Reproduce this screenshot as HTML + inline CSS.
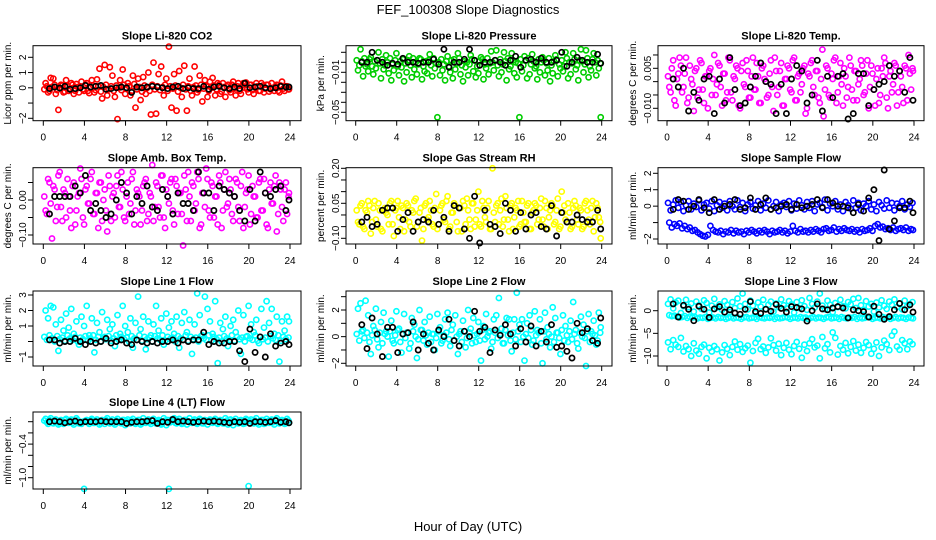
<!DOCTYPE html>
<html><head><meta charset="utf-8"><style>
html,body{margin:0;padding:0;background:#fff;}
svg{display:block;font-family:"Liberation Sans",Arial,sans-serif;}
</style></head><body>
<svg id="chart" width="936" height="540" viewBox="0 0 936 540">
<text x="468" y="14" text-anchor="middle" font-size="13">FEF_100308  Slope Diagnostics</text>
<text x="468" y="531" text-anchor="middle" font-size="13">Hour of Day (UTC)</text>
</svg>
<script>
// shared hour categories
const hours = [0.1,0.35,0.6,0.85,1.1,1.35,1.6,1.85,2.1,2.35,2.6,2.85,3.1,3.35,3.6,3.85,4.1,4.35,4.6,4.85,5.1,5.35,5.6,5.85,6.1,6.35,6.6,6.85,7.1,7.35,7.6,7.85,8.1,8.35,8.6,8.85,9.1,9.35,9.6,9.85,10.1,10.35,10.6,10.85,11.1,11.35,11.6,11.85,12.1,12.35,12.6,12.85,13.1,13.35,13.6,13.85,14.1,14.35,14.6,14.85,15.1,15.35,15.6,15.85,16.1,16.35,16.6,16.85,17.1,17.35,17.6,17.85,18.1,18.35,18.6,18.85,19.1,19.35,19.6,19.85,20.1,20.35,20.6,20.85,21.1,21.35,21.6,21.85,22.1,22.35,22.6,22.85,23.1,23.35,23.6,23.85];
const hoursAlt = [0.22,0.47,0.72,0.97,1.22,1.47,1.72,1.97,2.22,2.47,2.72,2.97,3.22,3.47,3.72,3.97,4.22,4.47,4.72,4.97,5.22,5.47,5.72,5.97,6.22,6.47,6.72,6.97,7.22,7.47,7.72,7.97,8.22,8.47,8.72,8.97,9.22,9.47,9.72,9.97,10.22,10.47,10.72,10.97,11.22,11.47,11.72,11.97,12.22,12.47,12.72,12.97,13.22,13.47,13.72,13.97,14.22,14.47,14.72,14.97,15.22,15.47,15.72,15.97,16.22,16.47,16.72,16.97,17.22,17.47,17.72,17.97,18.22,18.47,18.72,18.97,19.22,19.47,19.72,19.97,20.22,20.47,20.72,20.97,21.22,21.47,21.72,21.97,22.22,22.47,22.72,22.97,23.22,23.47,23.72,23.9];
const hoursBlack = [0.6,1.1,1.6,2.1,2.6,3.1,3.6,4.1,4.6,5.1,5.6,6.1,6.6,7.1,7.6,8.1,8.6,9.1,9.6,10.1,10.6,11.1,11.6,12.1,12.6,13.1,13.6,14.1,14.6,15.1,15.6,16.1,16.6,17.1,17.6,18.1,18.6,19.1,19.6,20.1,20.6,21.1,21.6,22.1,22.6,23.1,23.6,23.9];
const xTicks = [0,4,8,12,16,20,24];

// Panel 1: CO2
const co2Core = [-0.1,0.1,-0.2,0.05,0.2,-0.15,0,0.15,-0.25,0.1,-0.05,0.2,-0.2,0.05,0.1,-0.1,0.2,-0.2,0,0.15,-0.15,0.1,-0.25,0.05,0.2,-0.1,0.1,-0.2,0.15,0,-0.15,0.2,-0.05,0.1,-0.2,0.25,-0.1,0.05,-0.25,0.15,0,-0.2,0.2,-0.1,0.1,-0.15,0.05,0.2,-0.2,0.1,-0.05,0.15,-0.25,0,0.2,-0.1,0.1,-0.2,0.05,0.15,-0.15,0.2,-0.05,0.1,-0.2,0,0.15,-0.1,0.2,-0.25,0.05,0.1,-0.15,0.2,-0.05,0.1,-0.2,0.15,0,-0.1,0.2,-0.15,0.05,0.1,-0.2,0.15,-0.05,0.2,-0.1,0,0.1,-0.2,0.15,-0.05,0.1,-0.1];
const co2Scatter = [0.3,-0.3,0.65,0.6,-0.4,-1.45,0.2,-0.3,0.5,-0.2,0.3,-0.4,0.25,-0.3,0.4,-0.2,0.3,-0.35,0.5,-0.3,0.55,1.25,-0.7,1.5,-0.5,1.35,0.8,-0.6,-2.05,0.5,1.2,-0.4,0.3,-0.5,0.8,-1.3,0.6,-0.8,0.7,-0.4,1.0,-1.75,1.65,-1.7,0.9,1.4,-0.5,0.6,2.7,-1.3,0.9,-1.5,1.1,-0.6,1.45,-1.5,0.6,-0.5,1.4,-0.3,0.8,-0.9,0.5,-0.6,0.4,0.65,-0.5,0.3,-0.4,0.3,-0.6,0.2,-0.3,0.4,-0.5,0.3,-0.4,0.3,0.35,-0.3,0.2,-0.4,0.3,-0.2,0.3,-0.3,0.2,-0.25,0.3,-0.2,0.2,-0.3,0.4,-0.2,0.1,-0.1];
const co2Black = [-0.05,0.05,-0.02,0.1,-0.1,-0.05,0,0.15,0.05,0.1,0.15,-0.1,-0.05,0,0.05,0,-0.3,0.05,0,0.05,0.1,0.05,0,-0.05,0.05,0.1,-0.05,0,-0.05,-0.05,0.1,-0.1,0.05,0.1,0,-0.05,0.05,-0.05,0.3,0,0.05,0.1,0,-0.05,0,0.1,0.05,0.05];

// Panel 2: Pressure
const presCore = [0.002,-0.003,0.001,0.004,-0.002,0.003,-0.004,0.001,0.002,-0.001,0.003,-0.003,0,0.004,-0.002,0.002,-0.004,0.001,0.003,-0.001,0.002,-0.003,0.004,0,-0.002,0.003,-0.004,0.001,0.002,-0.003,0.004,-0.001,0,0.003,-0.002,0.001,-0.004,0.002,0.003,-0.001,0.004,-0.003,0.001,0,-0.002,0.003,0.002,-0.004,0.001,0.003,-0.002,0.004,-0.001,0,0.002,-0.003,0.003,-0.002,0.001,0.004,-0.004,0.002,0,-0.001,0.003,-0.003,0.002,0.004,-0.002,0.001,-0.004,0.003,0,0.002,-0.001,0.004,-0.003,0.001,0.003,-0.002,0.002,-0.004,0.004,0,-0.001,0.003,-0.003,0.002,0.001,-0.002,0.004,-0.004,0.003,0,0.002,-0.001];
const presScatter = [-0.008,0.013,-0.014,-0.004,-0.009,0.005,-0.012,-0.006,0.01,-0.016,-0.007,0.007,-0.011,-0.018,-0.008,0.009,-0.013,-0.005,-0.019,-0.01,0.006,-0.015,-0.007,-0.012,0.004,-0.017,-0.009,-0.011,0.008,-0.014,-0.006,-0.055,-0.013,-0.008,-0.018,0.006,-0.01,-0.016,-0.007,0.009,-0.012,-0.019,-0.005,-0.013,0.007,-0.009,-0.015,-0.011,0.005,-0.017,-0.006,-0.012,0.011,-0.008,0.012,-0.014,-0.01,0.01,-0.018,-0.007,0.009,-0.011,-0.015,-0.055,-0.009,0.006,-0.016,-0.012,0.008,-0.006,-0.017,-0.01,0.005,-0.013,-0.008,-0.019,-0.011,0.007,-0.014,-0.006,-0.009,0.01,-0.016,-0.012,0.009,-0.007,-0.018,0.013,-0.01,0.012,-0.015,-0.008,0.009,-0.013,-0.006,-0.055];
const presBlack = [0,0,0.01,0.002,0,-0.003,-0.001,-0.002,0.004,0,0,-0.001,0,0,0.003,-0.002,0.013,-0.005,0,0,0.003,0.013,0.002,-0.003,0,0,0.002,0,-0.003,0.002,0.006,-0.005,0.002,0.003,0,0.004,0,0,0.002,0.01,-0.004,0,0.005,0.002,0,0,0.008,-0.001];

// Panel 3: Li-820 temp
const tempA = [0.002,-0.004,0.008,-0.009,0.003,0.006,-0.002,0.009,-0.006,0.001,-0.011,0.005,-0.003,0.007,-0.008,0.002,0.004,-0.005,0.01,-0.001,0.006,-0.009,0.003,-0.004,0.008,-0.007,0.001,0.005,-0.01,0.007,-0.002,0.004,-0.006,0.009,-0.003,0.002,-0.008,0.006,0,-0.005,0.008,-0.011,0.004,-0.002,0.007,-0.009,0.001,0.005,-0.004,0.009,-0.007,0.003,-0.001,0.006,-0.01,0.002,0.008,-0.005,0.004,-0.008,0.012,-0.003,0.005,-0.006,0.001,0.009,-0.004,0.007,-0.009,0.002,-0.002,0.006,-0.007,0.004,-0.001,0.008,-0.005,0.003,-0.01,0.006,-0.003,0.001,-0.008,0.005,0.009,-0.006,0.002,-0.004,0.007,-0.009,0.004,-0.002,0.006,-0.007,0.003,0.005];
const tempB = [-0.002,0.005,-0.007,0.001,0.009,-0.004,0.003,-0.008,0.006,-0.001,0.004,-0.006,0.008,-0.003,0.002,-0.01,0.005,0.001,-0.005,0.007,-0.002,0.003,-0.007,0.009,-0.004,0.002,0.006,-0.009,0.004,-0.001,0.008,-0.006,0.002,-0.003,0.007,-0.008,0.005,0.001,-0.006,0.003,-0.002,0.009,-0.005,0.004,-0.009,0.001,0.006,-0.003,0.008,-0.007,0.002,-0.004,0.005,-0.012,0.003,0.007,-0.002,0.004,-0.006,0.001,-0.013,0.006,-0.005,0.003,0.008,-0.008,0.002,-0.001,0.005,-0.006,0.009,-0.003,0.004,-0.007,0.001,0.006,-0.004,0.008,-0.002,0.003,-0.009,0.005,-0.005,0.002,0.007,-0.01,0.004,-0.001,0.006,-0.004,0.002,-0.008,0.005,0.01,-0.003,0.004];
const tempBlack = [0.001,-0.002,0.005,-0.011,-0.004,-0.007,0.001,0.002,-0.012,0.001,-0.008,0.009,-0.003,-0.009,-0.008,-0.002,0.002,0.007,0,-0.001,-0.012,-0.001,-0.012,0.001,0.006,0.004,-0.008,-0.005,0.008,-0.011,0.002,-0.006,0.002,0.003,-0.014,-0.012,0.003,0.003,-0.009,-0.003,-0.001,0,0.006,0.002,0.004,-0.004,0.009,-0.007];

// Panel 4: Amb box temp
const ambA = [0.01,-0.04,0.05,-0.11,0.03,-0.02,0.08,-0.06,0.02,0.06,-0.03,0.04,-0.07,0.01,0.09,-0.05,0.03,-0.01,0.06,-0.04,0.02,-0.08,0.05,0,-0.03,0.07,-0.06,0.02,0.04,-0.02,0.08,-0.05,0.01,-0.04,0.06,-0.07,0.03,0.01,-0.03,0.05,-0.06,0.02,0.1,-0.02,0.04,-0.05,0.07,-0.08,0.01,0.05,-0.03,0.06,-0.04,0.02,-0.13,0.03,0.08,-0.06,0.04,-0.01,0.06,-0.07,0.02,0.09,-0.03,0.05,-0.05,0.01,0.07,-0.08,0.03,-0.02,0.06,-0.04,0.01,0.05,-0.06,0.08,-0.02,0.03,-0.07,0.04,0.01,-0.05,0.06,-0.03,0.02,-0.08,0.05,-0.01,0.07,-0.04,0.03,-0.06,0.05,0.01];
const ambB = [-0.03,0.06,-0.01,0.04,-0.06,0.07,-0.02,0.03,-0.05,0.01,-0.08,0.05,-0.03,0.02,0.06,-0.07,0.04,-0.01,0.08,-0.04,0.02,0.05,-0.06,0.03,-0.09,0.04,0.01,-0.05,0.07,-0.02,0.03,-0.06,0.05,-0.01,0.08,-0.03,0.02,-0.07,0.04,0.06,-0.04,0.01,-0.06,0.05,-0.02,0.07,-0.05,0.03,-0.01,0.06,-0.07,0.04,0.02,-0.04,0.07,-0.06,0.01,0.05,-0.03,0.08,-0.08,0.02,-0.02,0.06,-0.05,0.04,0.01,-0.07,0.05,-0.03,0.08,-0.01,0.03,-0.06,0.06,-0.02,0.04,-0.08,0.02,0.07,-0.04,0.01,-0.05,0.05,-0.03,0.06,-0.07,0.03,-0.01,0.04,-0.09,0.05,-0.02,0.03,-0.04,0.02];
const ambBlack = [-0.04,0.01,0.01,0.01,0.01,0.04,0.02,0.07,-0.03,-0.01,-0.03,-0.05,-0.04,0,0.05,0.02,-0.04,0.01,-0.01,0.04,-0.02,-0.03,0.03,0.01,-0.04,0.02,-0.01,-0.01,-0.03,0.08,0.02,0.02,-0.03,0.04,0.03,0.02,0.01,-0.03,-0.06,0.03,-0.06,0.08,0.02,0.01,0.03,0.04,-0.03,0];

// Panel 5: Gas stream RH
const rhA = [0.02,-0.04,0.05,-0.06,0.01,0.04,-0.03,0.06,-0.05,0.02,-0.07,0.03,0,0.05,-0.04,0.02,0.06,-0.06,0.03,-0.02,0.04,-0.05,0.01,0.07,-0.03,0.03,-0.06,0.05,-0.01,0.02,-0.05,0.09,-0.04,0.04,-0.02,0.06,-0.06,0.01,0.05,-0.03,0.03,-0.07,0.04,0.07,-0.02,0.05,-0.05,0.02,-0.04,0.06,-0.01,0.03,-0.06,0.2,-0.03,0.05,0.02,-0.05,0.08,-0.02,0.04,-0.06,0.03,0.06,-0.04,0.01,-0.03,0.05,-0.06,0.02,0.04,-0.02,0.07,-0.05,0.03,-0.01,0.05,-0.04,0.02,-0.06,0.1,0.04,-0.03,0.01,-0.05,0.06,-0.02,0.03,-0.06,0.05,0.02,-0.04,0.06,-0.01,0.03,-0.03];
const rhB = [-0.03,0.04,-0.05,0.02,0.06,-0.08,0.03,-0.02,0.05,-0.06,0.02,0.01,-0.04,0.06,-0.09,0.03,-0.01,0.04,-0.07,0.05,-0.03,0.02,0.06,-0.05,0.01,-0.11,0.04,-0.02,0.06,-0.04,0.03,-0.06,0.02,0.05,-0.03,0.08,-0.05,0.01,0.04,-0.07,0.03,0.06,-0.04,0.02,-0.06,0.05,-0.02,0.1,-0.05,0.03,-0.03,0.06,-0.06,0.01,0.04,-0.04,0.07,-0.02,0.03,-0.07,0.05,-0.01,0.02,-0.05,0.06,-0.03,0.04,-0.06,0.01,0.05,-0.04,0.03,-0.02,0.06,-0.06,0.02,0.04,-0.03,0.07,-0.05,0.01,-0.02,0.05,-0.06,0.03,0.04,-0.04,0.02,-0.05,0.06,-0.02,0.03,-0.07,0.05,-0.01,-0.1];
const rhBlack = [-0.03,-0.01,-0.05,-0.04,0.02,0.03,0.03,-0.07,-0.02,0.01,-0.07,-0.03,-0.02,-0.03,0.02,-0.04,-0.01,-0.07,0.04,0.03,-0.06,-0.1,0.08,-0.12,0.02,-0.04,-0.05,-0.08,0.05,0.02,-0.07,0.01,-0.06,0,0.01,-0.05,-0.06,0.04,-0.09,0.01,-0.03,-0.03,0,-0.02,-0.03,-0.03,0.02,-0.06];

// Panel 6: Sample flow
const flowUpper = [0.2,-0.25,0.1,0.35,-0.1,0.25,-0.3,0.05,0.3,-0.2,0.15,-0.05,0.35,-0.25,0.1,0.2,-0.15,0.3,-0.3,0.05,0.25,-0.1,0.15,-0.25,0.3,0,-0.2,0.35,-0.05,0.2,-0.3,0.1,0.25,-0.15,0.05,0.3,-0.25,0.15,-0.1,0.35,-0.2,0,0.25,-0.3,0.1,0.2,-0.05,0.3,-0.25,0.15,-0.15,0.35,0.05,-0.2,0.25,-0.1,0.3,-0.3,0.1,0.2,-0.05,0.4,-0.25,0.15,0,0.3,-0.2,0.1,-0.3,0.25,0.05,-0.15,0.35,-0.1,0.2,-0.25,0.15,0,0.3,-0.2,0.1,-0.3,0.25,0.05,-0.15,0.35,-0.1,0.2,-0.25,0.15,0,0.3,-0.2,0.1,-0.05,0.2];
const flowLower = [-1,-1.3,-1.1,-1.2,-1.05,-1.35,-1.2,-1.4,-1.3,-1.5,-1.45,-1.6,-1.7,-1.8,-1.85,-1.75,-1.2,-1.45,-1.55,-1.6,-1.5,-1.7,-1.55,-1.6,-1.45,-1.65,-1.5,-1.6,-1.55,-1.7,-1.5,-1.6,-1.45,-1.55,-1.65,-1.5,-1.6,-1.45,-1.55,-1.7,-1.5,-1.6,-1.55,-1.45,-1.6,-1.5,-1.65,-1.55,-1.2,-1.5,-1.6,-1.4,-1.55,-1.5,-1.6,-1.45,-1.55,-1.4,-1.5,-1.6,-1.4,-1.35,-1.5,-1.45,-1.3,-1.55,-1.4,-1.5,-1.35,-1.45,-1.5,-1.4,-1.55,-1.45,-1.6,-1.4,-1.5,-1.45,-1.35,-1.5,-1.2,-1.1,-1.3,-1.25,-1.4,-1.35,-1.45,-1.3,-1.5,-1.4,-1.35,-1.45,-1.3,-1.5,-1.4,-1.45];
const flowBlack = [-0.2,0.4,0.3,-0.2,0,0.4,-0.1,-0.4,0.4,-0.2,0,0.1,0.4,-0.2,-0.1,0.5,-0.2,0.1,0.5,-0.2,-0.1,0,0.1,-0.2,0.1,-0.1,0,0.1,0.4,-0.1,0.4,0.2,0,0,-0.1,-0.4,0.1,-0.3,0.5,1,-2.1,2.2,-1.4,-0.9,-0.1,-0.1,0.3,-0.4];

// Panel 7: Line 1 flow
const l1Core = [0.3,0.1,0.4,0.2,0,0.35,0.15,0.25,0.05,0.4,0.2,0.1,0.3,0,0.25,0.15,0.35,0.05,0.2,0.4,0.1,0.3,0,0.25,0.15,0.35,0.05,0.2,0.4,0.1,0.3,0.15,0.25,0,0.35,0.2,0.1,0.4,0.05,0.3,0.15,0.25,0,0.35,0.2,0.1,0.4,0.05,0.3,0.15,0.25,0,0.35,0.2,0.1,0.4,0.05,0.3,0.15,0.25,0,0.35,0.2,0.1,0.4,0.05,0.3,0.15,0.25,0,0.35,0.2,0.1,0.4,0.05,0.3,0.15,0.25,0,0.35,0.2,0.1,0.4,0.05,0.3,0.15,0.25,0,0.35,0.2,0.1,0.4,0.05,0.3,0.15,0.25];
const l1Scatter = [2.0,1.5,2.3,2.2,1.1,-0.6,1.4,0.7,1.8,0.9,2.1,0.5,1.3,-0.2,1.6,1.0,2.3,0.4,1.5,-0.7,1.2,0.6,1.9,0.3,1.4,0.8,1.1,-0.3,1.7,0.5,2.3,1.0,0.6,1.5,-0.4,1.2,2.9,0.8,1.6,-0.5,1.3,0.4,1.1,2.3,0.7,1.5,-0.2,1.8,0.9,1.3,0.5,1.6,-0.4,1.2,1.9,0.6,1.4,-0.8,1.1,3.1,1.7,0.4,2.9,2.1,1.3,0.5,2.6,-1.4,1.2,0.8,1.6,-0.3,1.0,1.4,0.6,2.0,-0.8,1.7,0.3,2.3,1.1,0.6,1.4,-0.1,2.1,0.9,2.6,1.2,2.1,0.5,1.6,-1.3,1.3,0.7,1.6,1.3];
const l1Black = [0.1,0.1,-0.1,0,0,0.2,0,-0.2,0,-0.1,0,0.2,-0.1,0,0.1,-0.1,-0.2,0.1,0,-0.1,0,-0.1,0,0,0.1,-0.1,0.1,0,0.1,0.1,0.6,-0.2,0,-0.1,-0.1,0,0,-0.6,-1.3,0.8,-0.7,0.3,-1.0,0.5,-0.3,-0.1,0,-0.2];

// Panel 8: Line 2 flow
const l2Core = [0.2,-0.3,0.4,-0.1,0.3,-0.4,0.1,0.5,-0.2,0.3,-0.5,0.2,0,0.4,-0.3,0.1,0.5,-0.4,0.2,-0.1,0.3,-0.5,0.4,0,-0.2,0.5,-0.3,0.1,0.3,-0.4,0.2,-0.1,0.4,-0.5,0.1,0.3,-0.2,0.5,-0.3,0,0.2,-0.4,0.4,-0.1,0.3,-0.5,0.1,0.2,-0.3,0.5,-0.2,0,0.4,-0.4,0.3,-0.1,0.2,-0.5,0.5,0.1,-0.3,0.3,-0.2,0.4,-0.4,0,0.2,-0.1,0.5,-0.3,0.1,0.3,-0.5,0.4,-0.2,0.2,0,-0.4,0.3,-0.1,0.5,-0.3,0.1,0.4,-0.2,0.2,-0.5,0.3,0,-0.1,0.4,-0.4,0.2,0.1,-0.3,0.3];
const l2Scatter = [2.1,2.5,0.5,2.7,1.6,-1.3,0.8,2.1,-0.8,1.1,1.8,0.4,-1.5,1.2,-0.5,1.9,0.6,-1.2,1.7,0.3,-0.9,1.4,0.9,-1.6,2.0,0.5,1.1,-0.6,1.5,0.2,-1.0,1.7,0.7,-0.3,1.3,1.8,-0.7,0.9,1.6,-1.3,0.4,1.2,-0.8,2.0,0.6,1.4,-0.4,1.1,-1.8,0.8,1.7,0.3,-0.9,1.3,1.6,2.9,0.6,-0.5,1.4,1.3,-1.1,1.3,3.3,0.9,1.3,-1.8,1.0,1.6,-0.6,1.9,0.5,1.3,-2.0,1.8,0.7,-0.8,2.2,1.4,0.3,-1.3,1.6,0.8,-0.4,1.2,2.6,0.5,-0.9,1.5,0.9,-2.2,1.7,0.4,1.2,-0.6,1.8,0.7];
const l2Black = [0.9,-0.9,1.4,0.2,-1.5,0.7,0.7,-1.2,0.2,0.3,1.1,-1.0,0.2,-0.5,-1.0,0.5,0,1.3,-0.3,-0.7,0.4,0,1.9,0.4,0.7,-1.2,0.5,0.1,0.9,0.2,-0.7,0.6,-0.4,0.8,-0.7,0.4,-0.4,0.9,-0.8,-0.7,-1.1,-1.6,1.0,0.3,0.6,-0.3,-0.5,1.4];

// Panel 9: Line 3 flow
const l3Upper = [1.5,2.5,0.5,1.8,2.2,-0.5,1.0,2.4,0.8,1.6,-0.2,2.0,1.2,0.4,2.3,1.7,-0.4,1.1,2.6,0.7,1.4,0.2,2.1,1.3,-0.3,1.9,0.6,2.7,1.0,3.8,1.5,0.3,2.2,1.1,-0.5,1.8,0.9,2.4,0.4,1.3,2.0,-0.2,1.6,0.8,2.5,1.2,0.5,2.1,1.4,-0.4,1.9,0.6,2.3,1.0,0.2,2.8,1.5,0.7,2.0,3.8,1.1,0.3,2.2,1.3,-0.3,1.7,0.8,2.4,1.0,0.5,1.9,1.4,2.6,0.6,2.8,1.2,0.2,2.1,0.9,1.5,-0.2,1.8,0.7,2.3,1.1,0.4,2.0,1.3,2.5,0.8,1.6,0.3,2.2,1.0,1.4,1.9];
const l3Mid = [-1.0,-1.2,-1.1,-1.3,-1.5,-1.4,-1.2,-1.6,-1.3,-1.5,-1.4,-1.7,-1.5,-1.6,-1.4,-1.8,-1.6,-1.5,-1.7,-1.4,-1.6,-1.5,-1.8,-1.6,-1.4,-1.7,-1.5,-1.6,-1.8,-1.5,-1.4,-1.7,-1.6,-1.5,-1.8,-1.4,-1.6,-1.7,-1.5,-1.6,-1.4,-1.8,-1.5,-1.7,-1.6,-1.4,-1.5,-1.8,-1.6,-1.5,-1.7,-1.4,-1.6,-1.5,-1.8,-1.6,-1.4,-1.7,-1.5,-1.6,-1.8,-1.5,-1.4,-1.7,-1.6,-1.5,-1.8,-1.4,-1.6,-1.7,-1.5,-1.6,-1.4,-1.8,-1.5,-1.7,-1.6,-1.4,-1.5,-1.8,-1.6,-1.5,-1.7,-1.4,-1.6,-1.5,-1.8,-1.6,-1.4,-1.7,-1.5,-1.6,-1.8,-1.5,-1.6,-1.7];
const l3Lower = [-7,-8.5,-6.5,-7.5,-8,-6,-9,-7.8,-8.5,-10,-7.2,-8.8,-9.5,-8,-7.5,-10.5,-8.2,-9,-7.8,-8.5,-11,-9.2,-7.6,-8.4,-9.8,-8,-6.8,-8.6,-7.4,-9.1,-8.3,-7.7,-11.5,-8.9,-7.1,-6.2,-8.5,-7.9,-9.3,-8.1,-6.1,-7.6,-8.8,-7.3,-9.8,-8.2,-7.1,-8.6,-9.6,-7.8,-6.9,-8.4,-10.4,-7.5,-8.9,-7.2,-6.3,-8.1,-7.7,-10.5,-5.8,-8.3,-7.4,-9.2,-4.8,-6,-9.7,-7.8,-8.6,-7.1,-9.4,-8,-6.7,-8.8,-7.5,-9.3,-8.2,-6.9,-7.6,-9.5,-8.4,-7,-10,-8.1,-6.6,-7.4,-8.7,-5.5,-4.6,-7.9,-8.6,-6.5,-7.2,-8.5,-6.8,-7.4];
const l3Black = [1.5,-1.4,1.2,0.3,-2.2,1.0,0.3,-1.5,0.4,0.9,-0.3,0.2,-0.5,-0.8,0.3,2.0,-0.2,-0.6,0.3,-0.1,1.4,0.5,-0.3,0.9,0.7,0.4,-2.3,0,1.5,0.4,0.2,0.6,0.9,0.6,-1.6,0.2,0,-0.2,-1.4,1.0,-0.8,-1.9,-1.3,0.2,1.6,0.2,1.3,-0.3];

// Panel 10: Line 4 (LT) flow
const l4Core = [0.02,-0.01,0.03,-0.02,0.01,0.02,-0.03,0,0.03,-0.01,0.02,-0.02,0.01,0.03,-0.03,0,0.02,-0.01,0.03,-0.02,0.01,0,-0.03,0.02,0.03,-0.01,0.01,-0.02,0.02,0,-0.03,0.03,0.01,-0.01,0.02,-0.02,0,0.03,-0.03,0.01,0.02,-0.01,0.03,-0.02,0,0.01,-0.03,0.02,0.03,-0.01,0.01,-0.02,0.02,0,-0.03,0.03,0.01,-0.01,0.02,-0.02,0,0.03,-0.03,0.01,0.02,-0.01,0.03,-0.02,0,0.01,-0.03,0.02,0.03,-0.01,0.01,-0.02,0.02,0,-0.03,0.03,0.01,-0.01,0.02,-0.02,0,0.03,-0.03,0.01,0.02,-0.01,0.03,-0.02,0,0.01,-0.03,0.02];
const l4Scatter = [0.05,-0.04,0.06,-0.03,0.04,-0.05,0.03,-0.04,0.05,-0.02,0.04,-0.05,0.06,-0.03,-0.04,-1.2,0.03,-0.04,0.05,-0.02,0.04,-0.05,0.03,-0.04,0.06,-0.03,0.04,-0.05,0.05,-0.02,0.03,-0.06,0.04,-0.03,0.05,-0.04,0.03,-0.05,0.06,-0.02,0.04,-0.04,0.05,-0.03,0.03,-0.05,0.06,-0.06,-1.2,0.04,0.06,-0.03,0.05,-0.04,0.03,-0.05,0.06,-0.02,0.04,-0.04,0.05,-0.03,0.03,-0.05,0.04,-0.02,0.05,-0.04,0.03,-0.03,0.06,-0.05,0.04,-0.06,0.05,-0.03,0.03,-0.04,0.05,-1.15,0.04,-0.03,0.06,-0.05,0.03,-0.04,0.05,-0.02,0.04,-0.05,0.06,-0.03,0.03,-0.04,0.05,-0.02];
const l4Black = [0,0.01,0,-0.02,0,0.01,-0.01,0,0,0,0.01,0,0,0,0,-0.03,-0.01,0,0,0.01,0.02,-0.03,0,-0.01,0.04,0,0.01,0,-0.01,0,0.01,0,0.01,0,-0.01,-0.02,0,-0.01,0,-0.03,0,0,-0.01,0,0.02,-0.01,0,-0.02];

// ---------------- layout (pixels) ----------------
const cols = [{bx0:33,bx1:301,h0:43.3,h24:290},{bx0:346,bx1:612,h0:355.7,h24:601.7},{bx0:658,bx1:924,h0:667,h24:914}];
const rows = [{by0:45.7,by1:120.7},{by0:167.7,by1:244},{by0:291,by1:366},{by0:412,by1:489}];

const panels = [
 {name:'co2',title:'Slope Li-820 CO2',ylab:'Licor ppm per min.',c:0,r:0,color:'#ff0000',cal:[2,57.3,-2,118.3],ticks:[-2,-1,0,1,2],labels:['2','1','0','-2'],labelVals:[2,1,0,-2],series:[co2Core,co2Scatter],alt:[hours,hoursAlt],black:co2Black},
 {name:'pressure',title:'Slope Li-820 Pressure',ylab:'kPa per min.',c:1,r:0,color:'#00cd00',cal:[-0.01,72.3,-0.05,112.3],ticks:[0.01,0,-0.01,-0.02,-0.03,-0.04,-0.05],labels:['-0.01','-0.05'],labelVals:[-0.01,-0.05],series:[presCore,presScatter],alt:[hours,hoursAlt],black:presBlack},
 {name:'li820-temp',title:'Slope Li-820 Temp.',ylab:'degrees C per min.',c:2,r:0,color:'#ff00ff',cal:[0.005,68.3,-0.01,108.3],ticks:[0.01,0.005,0,-0.005,-0.01],labels:['0.005','-0.010'],labelVals:[0.005,-0.01],series:[tempA,tempB],alt:[hours,hoursAlt],black:tempBlack},
 {name:'amb-box-temp',title:'Slope Amb. Box Temp.',ylab:'degrees C per min.',c:0,r:1,color:'#ff00ff',cal:[0,200,-0.1,235],ticks:[0.05,0,-0.05,-0.1],labels:['0.00','-0.10'],labelVals:[0,-0.1],series:[ambA,ambB],alt:[hours,hoursAlt],black:ambBlack},
 {name:'gas-stream-rh',title:'Slope Gas Stream RH',ylab:'percent per min.',c:1,r:1,color:'#ffff00',cal:[0.2,168.3,-0.1,238.3],ticks:[0.2,0.15,0.1,0.05,0,-0.05,-0.1],labels:['0.20','0.05','-0.10'],labelVals:[0.2,0.05,-0.1],series:[rhA,rhB],alt:[hours,hoursAlt],black:rhBlack},
 {name:'sample-flow',title:'Slope Sample Flow',ylab:'ml/min per min.',c:2,r:1,color:'#0000ff',cal:[2,173.3,-2,239],ticks:[-2,-1,0,1,2],labels:['2','1','0','-2'],labelVals:[2,1,0,-2],series:[flowUpper,flowLower],alt:[hours,hoursAlt],black:flowBlack},
 {name:'line1-flow',title:'Slope Line 1 Flow',ylab:'ml/min per min.',c:0,r:2,color:'#00ffff',cal:[3,295,-1,357],ticks:[-1,0,1,2,3],labels:['3','2','1','-1'],labelVals:[3,2,1,-1],series:[l1Core,l1Scatter],alt:[hours,hoursAlt],black:l1Black},
 {name:'line2-flow',title:'Slope Line 2 Flow',ylab:'ml/min per min.',c:1,r:2,color:'#00ffff',cal:[2,310,-2,363.3],ticks:[3,2,1,0,-1,-2],labels:['2','0','-2'],labelVals:[2,0,-2],series:[l2Core,l2Scatter],alt:[hours,hoursAlt],black:l2Black},
 {name:'line3-flow',title:'Slope Line 3 Flow',ylab:'ml/min per min.',c:2,r:2,color:'#00ffff',cal:[0,310.7,-10,356],ticks:[0,-5,-10],labels:['0','-5','-10'],labelVals:[0,-5,-10],series:[l3Upper,l3Mid,l3Lower],alt:[hours,hoursAlt,hours],black:l3Black},
 {name:'line4-flow',title:'Slope Line 4 (LT) Flow',ylab:'ml/min per min.',c:0,r:3,color:'#00ffff',cal:[0,421.7,-1,477.7],ticks:[0,-0.2,-0.4,-0.6,-0.8,-1.0],labels:['-0.4','-1.0'],labelVals:[-0.4,-1.0],series:[l4Core,l4Scatter],alt:[hours,hoursAlt],black:l4Black}
];

const NS='http://www.w3.org/2000/svg';
const svg=document.getElementById('chart');
function mk(tag,attrs,parent){const e=document.createElementNS(NS,tag);for(const k in attrs)e.setAttribute(k,attrs[k]);(parent||svg).appendChild(e);return e;}
function fmt(v){return String(v).replace('-','\u2212');}

panels.forEach(p=>{
  const col=cols[p.c], row=rows[p.r];
  const xs=h=>col.h0+(h/24)*(col.h24-col.h0);
  const ys=v=>p.cal[1]+(v-p.cal[0])*(p.cal[3]-p.cal[1])/(p.cal[2]-p.cal[0]);
  const g=mk('g',{});
  
  
  const cx=(col.bx0+col.bx1)/2;
  const t=mk('text',{x:cx,y:row.by0-6,'text-anchor':'middle','font-size':'11','font-weight':'bold'},g);
  t.textContent=p.title;
  
  
  const pts=mk('g',{fill:'none','stroke-width':'1.6'},g);
  
  
  p.series.forEach((vals,si)=>{
    const hs=p.alt[si];
    const n=Math.min(hs.length,vals.length);
    for(let i=0;i<n;i++){
      const c=mk('circle',{cx:xs(hs[i]).toFixed(1),cy:ys(vals[i]).toFixed(1),r:'2.6',stroke:p.color},pts);
      
      
    }
  });
  const nb=Math.min(hoursBlack.length,p.black.length);
  for(let i=0;i<nb;i++){
    const c=mk('circle',{cx:xs(hoursBlack[i]).toFixed(1),cy:ys(p.black[i]).toFixed(1),r:'2.6',stroke:'#000','stroke-width':'1.7'},pts);
    
    
  }
  const b=mk('rect',{x:col.bx0,y:row.by0,width:col.bx1-col.bx0,height:row.by1-row.by0,fill:'none',stroke:'#000','stroke-width':'1'},g);
  
  
  const xa=mk('g',{},g);
  
  
  mk('line',{x1:xs(0),x2:xs(24),y1:row.by1,y2:row.by1,stroke:'#000'},xa);
  xTicks.forEach(h=>{
    mk('line',{x1:xs(h),x2:xs(h),y1:row.by1,y2:row.by1+5,stroke:'#000'},xa);
    const tx=mk('text',{x:xs(h),y:row.by1+20,'text-anchor':'middle','font-size':'10'},xa);
    tx.textContent=h;
    
    
  });
  const ya=mk('g',{},g);
  
  
  const tmin=Math.min(...p.ticks.map(ys)), tmax=Math.max(...p.ticks.map(ys));
  mk('line',{x1:col.bx0,x2:col.bx0,y1:tmin,y2:tmax,stroke:'#000'},ya);
  p.ticks.forEach(v=>{mk('line',{x1:col.bx0-5,x2:col.bx0,y1:ys(v),y2:ys(v),stroke:'#000'},ya);});
  p.labelVals.forEach((v,i)=>{
    const yy=ys(v), xx=col.bx0-7;
    const tl=mk('text',{x:xx,y:yy,'text-anchor':'middle','font-size':'10',transform:`rotate(-90 ${xx} ${yy})`},ya);
    tl.textContent=fmt(p.labels[i]);
    
    
  });
  const ly=(row.by0+row.by1)/2, lx=col.bx0-22;
  const yl=mk('text',{x:lx,y:ly,'text-anchor':'middle','font-size':'10',transform:`rotate(-90 ${lx} ${ly})`},g);
  yl.textContent=p.ylab;
  
  
});
</script>
</body></html>
